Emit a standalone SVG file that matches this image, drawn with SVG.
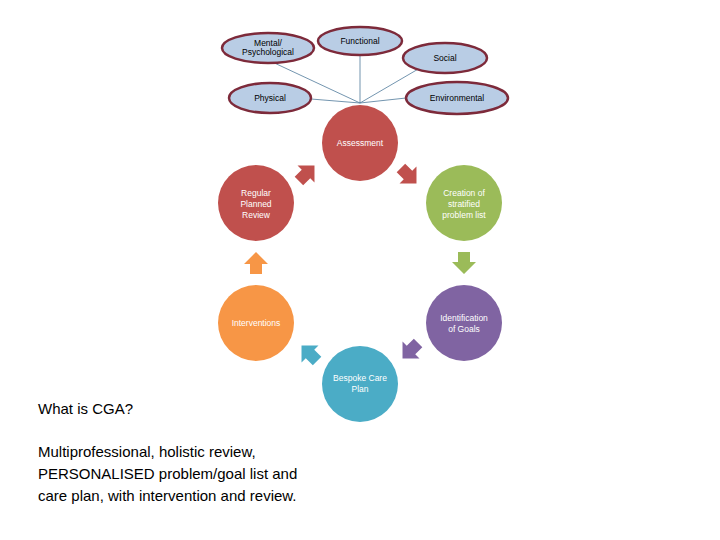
<svg xmlns="http://www.w3.org/2000/svg" width="720" height="540" viewBox="0 0 720 540">
<style>
.e{fill:#b9cde5;stroke:#7d2a3a;stroke-width:2.5}
.t{font-family:"Liberation Sans",Arial,sans-serif;font-size:8.5px;text-anchor:middle}
.w{fill:#fff}
.l{stroke:#4f7a9a;stroke-width:0.8}
</style>
<defs><polygon id="ar" points="-10,-6 0,-6 0,-12 12,0 0,12 0,6 -10,6"/></defs>
<rect width="720" height="540" fill="#fff"/>
<g id="connectors">
<line class="l" x1="268" y1="60" x2="360" y2="103"/>
<line class="l" x1="360" y1="53" x2="360" y2="103"/>
<line class="l" x1="420" y1="68" x2="360" y2="103"/>
<line class="l" x1="311" y1="99" x2="360" y2="103"/>
<line class="l" x1="406" y1="98" x2="360" y2="103"/>
<use href="#ar" fill="#c0504d" transform="translate(306,174) rotate(-45)"/>
<use href="#ar" fill="#c0504d" transform="translate(408,175) rotate(45)"/>
<use href="#ar" fill="#9bbb59" transform="translate(464,262) rotate(90)"/>
<use href="#ar" fill="#8064a2" transform="translate(411,350) rotate(135)"/>
<use href="#ar" fill="#4bacc6" transform="translate(310,354) rotate(-135)"/>
<use href="#ar" fill="#f79646" transform="translate(256,264) rotate(-90)"/>
</g>
<g id="mental"><ellipse class="e" cx="268" cy="48" rx="46" ry="15"/><text class="t" x="268" y="46">Mental/</text><text class="t" x="268" y="55">Psychological</text></g>
<g id="functional"><ellipse class="e" cx="360" cy="41" rx="42" ry="14"/><text class="t" x="360" y="44">Functional</text></g>
<g id="social"><ellipse class="e" cx="445" cy="58" rx="42" ry="15"/><text class="t" x="445" y="61">Social</text></g>
<g id="physical"><ellipse class="e" cx="270" cy="98" rx="41" ry="15"/><text class="t" x="270" y="101">Physical</text></g>
<g id="environmental"><ellipse class="e" cx="457" cy="98" rx="51" ry="16"/><text class="t" x="457" y="101">Environmental</text></g>
<g id="assessment"><circle cx="360" cy="143" r="38" fill="#c0504d"/><text class="t w" x="360" y="146">Assessment</text></g>
<g id="creation"><circle cx="464" cy="203" r="38" fill="#9bbb59"/><text class="t w" x="464" y="196">Creation of</text><text class="t w" x="464" y="207">stratified</text><text class="t w" x="464" y="218">problem list</text></g>
<g id="identification"><circle cx="464" cy="323" r="38" fill="#8064a2"/><text class="t w" x="464" y="321">Identification</text><text class="t w" x="464" y="332">of Goals</text></g>
<g id="bespoke"><circle cx="360" cy="384" r="38" fill="#4bacc6"/><text class="t w" x="360" y="381">Bespoke Care</text><text class="t w" x="360" y="392">Plan</text></g>
<g id="interventions"><circle cx="256" cy="323" r="38" fill="#f79646"/><text class="t w" x="256" y="326">Interventions</text></g>
<g id="review"><circle cx="256" cy="203" r="38" fill="#c0504d"/><text class="t w" x="256" y="196">Regular</text><text class="t w" x="256" y="207">Planned</text><text class="t w" x="256" y="218">Review</text></g>
<g id="caption" font-family="'Liberation Sans',Arial,sans-serif" font-size="15" fill="#000">
<text x="38" y="414">What is CGA?</text>
<text x="38" y="457">Multiprofessional, holistic review,</text>
<text x="38" y="479">PERSONALISED problem/goal list and</text>
<text x="38" y="501">care plan, with intervention and review.</text>
</g>
</svg>
